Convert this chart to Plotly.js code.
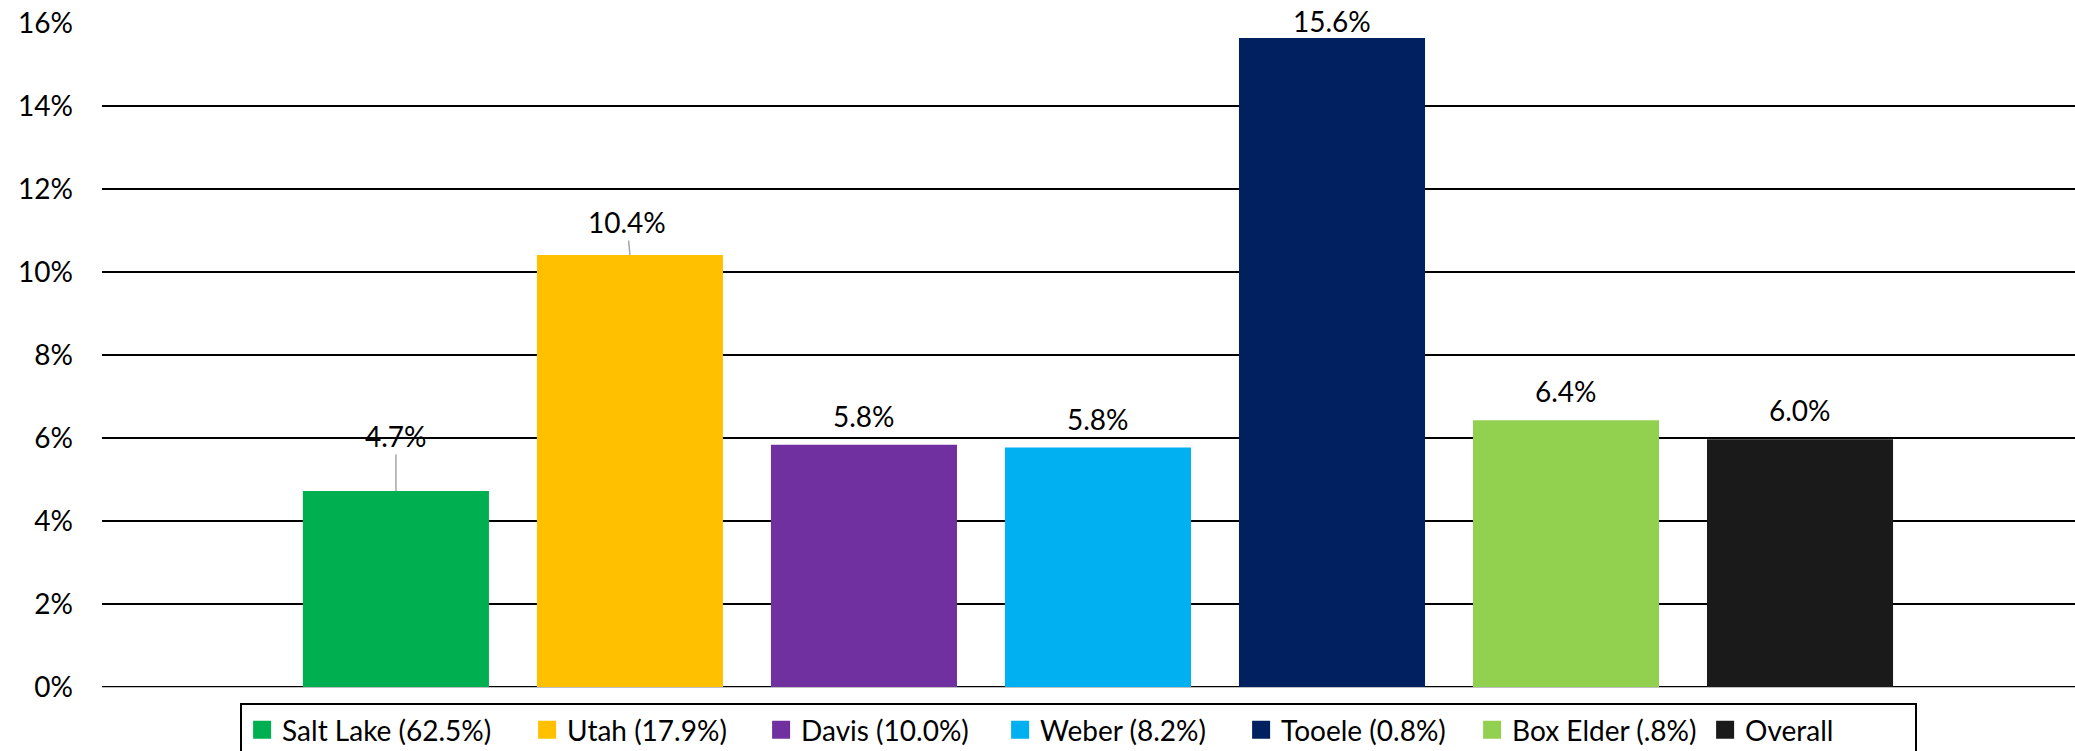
<!DOCTYPE html>
<html>
<head>
<meta charset="utf-8">
<script src="https://cdn.plot.ly/plotly-3.0.1.min.js"></script>
<style>
  html, body { margin: 0; padding: 0; background: #fff; }
  #chart { width: 2075px; height: 751px; }
</style>
</head>
<body>
<div id="chart"></div>
<script>
// ---- data ----
const categories = ["Salt Lake", "Utah", "Davis", "Weber", "Tooele", "Box Elder", "Overall"];
const legendLabels = ["Salt Lake (62.5%)", "Utah (17.9%)", "Davis (10.0%)", "Weber (8.2%)", "Tooele (0.8%)", "Box Elder (.8%)", "Overall"];
const rates = [0.0472, 0.1041, 0.0584, 0.0577, 0.1564, 0.0643, 0.0597];
const yTickValues = [0, 0.02, 0.04, 0.06, 0.08, 0.10, 0.12, 0.14, 0.16];

// ---- styles ----
const colors = ["#00B050", "#FFC000", "#7030A0", "#00B0F0", "#002060", "#92D050", "#1A1A1A"];
// legend entry text-area widths (px), to reproduce the original spacing
const legendEntryWidths = [240, 189, 194, 196, 186, 188, 165];
// label placement (pixel offsets of label centre above bar top); leader lines for first two
const labelStyle = [
  {leader: true, ax: 0, ay: -55},
  {leader: true, ax: -3, ay: -33},
  {leader: false, shift: 29},
  {leader: false, shift: 29},
  {leader: false, shift: 17},
  {leader: false, shift: 29},
  {leader: false, shift: 29}
];
const FONT = "Lato, 'Open Sans', sans-serif";

const traces = [];
categories.forEach((c, i) => {
  traces.push({
    type: "bar",
    x: [c],
    y: [rates[i]],
    width: 0.795,
    marker: {color: colors[i], line: {width: 0}},
    showlegend: false,
    hoverinfo: "skip"
  });
});
categories.forEach((c, i) => {
  traces.push({
    type: "scatter",
    mode: "markers",
    x: [null],
    y: [null],
    name: legendLabels[i],
    legendwidth: legendEntryWidths[i],
    marker: {symbol: "square", size: 16, color: colors[i], line: {width: 2, color: colors[i]}},
    showlegend: true,
    hoverinfo: "skip"
  });
});

const fmt = v => (v * 100).toFixed(1) + "%";
const annotations = categories.map((c, i) => {
  const s = labelStyle[i];
  const base = {
    x: c, y: rates[i], xref: "x", yref: "y",
    text: fmt(rates[i]),
    font: {family: FONT, size: 28, color: "#000"}
  };
  if (s.leader) {
    return Object.assign(base, {
      showarrow: true, arrowhead: 0, arrowwidth: 1.5, arrowcolor: "#A6A6A6",
      ax: s.ax, ay: s.ay, standoff: 0
    });
  }
  return Object.assign(base, {showarrow: false, yanchor: "middle", yshift: s.shift});
});

const layout = {
  width: 2075,
  height: 751,
  margin: {l: 102, r: 0, t: 23, b: 64, pad: 0, autoexpand: false},
  paper_bgcolor: "#fff",
  plot_bgcolor: "#fff",
  barmode: "overlay",
  font: {family: FONT, size: 28, color: "#000"},
  xaxis: {
    type: "category",
    categoryorder: "array",
    categoryarray: categories,
    range: [-1.256, 7.175],
    showticklabels: false,
    showgrid: false,
    zeroline: false,
    showline: true,
    linecolor: "#BFBFBF",
    linewidth: 1,
    ticks: "",
    fixedrange: true
  },
  yaxis: {
    range: [0, 0.16],
    tickvals: yTickValues,
    tickformat: ".0%",
    tickfont: {family: FONT, size: 28, color: "#000"},
    ticks: "",
    ticklabelstandoff: 28,
    showgrid: true,
    gridcolor: "#000",
    gridwidth: 2,
    zeroline: true,
    zerolinecolor: "#000",
    zerolinewidth: 2,
    showline: false,
    fixedrange: true
  },
  showlegend: true,
  legend: {
    orientation: "h",
    x: 0.0700,
    xanchor: "left",
    y: -0.0241,
    yanchor: "top",
    bordercolor: "#000",
    borderwidth: 2,
    bgcolor: "#fff",
    font: {family: FONT, size: 28, color: "#000"},
    itemwidth: 30,
    traceorder: "normal"
  },
  annotations: annotations
};

Plotly.newPlot("chart", traces, layout, {displayModeBar: false, staticPlot: true});
</script>
</body>
</html>
